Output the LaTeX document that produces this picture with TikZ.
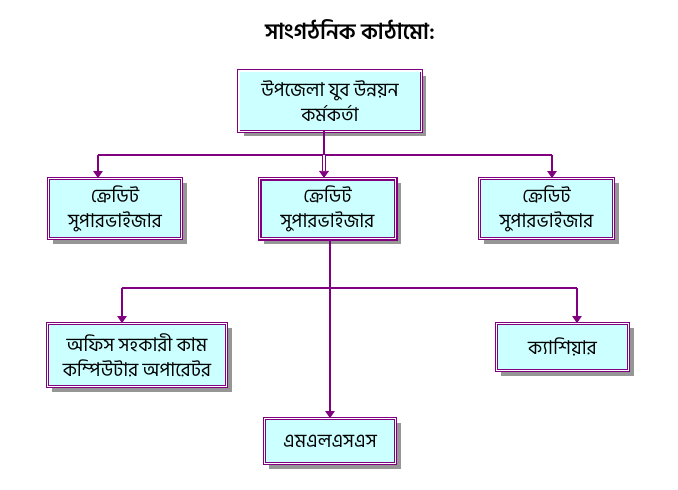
\documentclass[tikz,border=0pt]{standalone}
\usepackage{fontspec}
\newfontfamily\bn[Script=Bengali]{Hind Siliguri}
\usetikzlibrary{backgrounds,arrows.meta}
\definecolor{boxfill}{RGB}{204,255,255}
\definecolor{lnc}{RGB}{128,0,128}
\definecolor{shadowc}{RGB}{150,150,150}
\tikzset{
  orgbox/.style={rectangle, draw=lnc, line width=0.6pt, double=white, double distance=1.6pt,
    fill=boxfill, align=center, inner sep=2pt,
    font=\bn\fontsize{19}{25}\selectfont},
  mainbox/.style={orgbox, line width=1.3pt, double distance=1.4pt},
  boxborder/.style={draw=lnc, line width=0.6pt, double=white, double distance=1.6pt},
  conn/.style={draw=lnc, line width=2.2pt},
  arr/.style={conn, -{Triangle[length=7pt,width=9pt]}},
  boxshadow/.style={fill=shadowc},
}
\begin{document}
\begin{tikzpicture}[x=1pt,y=-1pt]
\useasboundingbox (0,0) rectangle (678,490);
\node[orgbox, minimum width=133pt, minimum height=60pt] (left) at (115,208.5) {ক্রেডিট\\সুপারভাইজার};
\node[orgbox, minimum width=182pt, minimum height=60pt] (head) at (330,101) {উপজেলা যুব উন্নয়ন\\কর্মকর্তা};
\draw[boxborder] (head.north west) rectangle (head.south east);
\node[mainbox, minimum width=136pt, minimum height=60pt] (mid) at (327.5,208.5) {ক্রেডিট\\সুপারভাইজার};
\node[orgbox, minimum width=134pt, minimum height=60pt] (right) at (546.5,208.5) {ক্রেডিট\\সুপারভাইজার};
\node[orgbox, minimum width=179pt, minimum height=63pt] (office) at (137,355) {অফিস সহকারী কাম\\কম্পিউটার অপারেটর};
\node[orgbox, minimum width=131pt, minimum height=45pt] (mlss) at (330,441) {এমএলএসএস};
\node[orgbox, minimum width=132pt, minimum height=47pt] (cash) at (562.5,347) {ক্যাশিয়ার};
\node[font=\bn\bfseries\fontsize{22}{26}\selectfont] (title) at (350,30) {সাংগঠনিক কাঠামো:};
\begin{scope}[on background layer]
\foreach \n in {head,left,mid,right,office,mlss,cash}
  \fill[boxshadow] ([shift={(5,5)}]\n.north west) rectangle ([shift={(5,5)}]\n.south east);
\end{scope}
% upper connectors
\coordinate (j1) at (324,155);
\coordinate (hl) at (98,155);
\coordinate (hr) at (552,155);
\draw[conn] (head.south -| j1) -- (j1);
\draw[conn] (hl) -- (hr);
\draw[arr] (hl) -- (hl |- left.north);
\draw[arr] (hr) -- (hr |- right.north);
\draw[draw=lnc, line width=0.8pt, double=white, double distance=2pt, -{Triangle[length=7pt,width=10pt]}] (j1) -- (j1 |- mid.north);
% lower connectors
\coordinate (j2) at (330,288);
\coordinate (ll) at (122,288);
\coordinate (lr) at (577,288);
\draw[conn] (mid.south -| j2) -- (j2);
\draw[conn] (ll) -- (lr);
\draw[arr] (ll) -- (ll |- office.north);
\draw[arr] (lr) -- (lr |- cash.north);
\draw[arr] (j2) -- (j2 |- mlss.north);
\end{tikzpicture}
\end{document}
